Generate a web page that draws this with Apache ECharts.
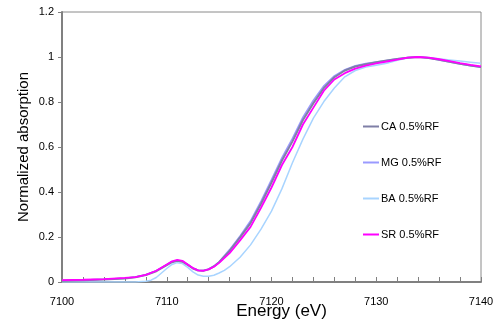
<!DOCTYPE html>
<html>
<head>
<meta charset="utf-8">
<script src="https://cdn.jsdelivr.net/npm/echarts@6/dist/echarts.min.js"></script>
<style>
  html, body { margin: 0; padding: 0; background: #fff; }
  #chart { width: 497px; height: 321px; }
</style>
</head>
<body>
<div id="chart"></div>
<script>
// XANES spectra
const seriesNames = ['CA 0.5%RF', 'MG 0.5%RF', 'BA 0.5%RF', 'SR 0.5%RF']
const xLabels = [7100, 7110, 7120, 7130, 7140]

const energyCA = [7100, 7102, 7104, 7106, 7107, 7108, 7109, 7110, 7110.5, 7111, 7111.5, 7112, 7112.5, 7113, 7113.5, 7114, 7114.5, 7115, 7116, 7117, 7118, 7119, 7120, 7121, 7122, 7123, 7124, 7125, 7126, 7127, 7128, 7129, 7130, 7131, 7132, 7133, 7134, 7135, 7136, 7137, 7138, 7139, 7140]
const valuesCA = [0.006, 0.008, 0.011, 0.016, 0.021, 0.031, 0.048, 0.075, 0.088, 0.094, 0.09, 0.076, 0.06, 0.051, 0.05, 0.056, 0.069, 0.088, 0.138, 0.198, 0.262, 0.348, 0.442, 0.54, 0.625, 0.72, 0.795, 0.862, 0.91, 0.94, 0.958, 0.968, 0.977, 0.984, 0.991, 0.997, 1.0, 0.996, 0.988, 0.979, 0.97, 0.962, 0.955]

const energyMG = energyCA
const valuesMG = [0.007, 0.009, 0.012, 0.017, 0.022, 0.032, 0.05, 0.077, 0.09, 0.096, 0.092, 0.078, 0.062, 0.052, 0.051, 0.058, 0.071, 0.09, 0.144, 0.205, 0.272, 0.36, 0.455, 0.553, 0.638, 0.733, 0.808, 0.872, 0.916, 0.944, 0.961, 0.971, 0.978, 0.985, 0.992, 0.998, 1.0, 0.995, 0.987, 0.978, 0.969, 0.961, 0.954]

const energyBA = [7100, 7102, 7104, 7106, 7107, 7108, 7108.5, 7109, 7110, 7110.5, 7111, 7111.5, 7112, 7112.5, 7113, 7113.5, 7114, 7114.5, 7115, 7115.5, 7116, 7117, 7118, 7119, 7120, 7121, 7122, 7123, 7124, 7125, 7126, 7127, 7128, 7129, 7130, 7131, 7132, 7133, 7134, 7135, 7136, 7137, 7138, 7139, 7140]
const valuesBA = [0.0, 0.0, 0.0, 0.0, 0.0, 0.003, 0.008, 0.02, 0.06, 0.078, 0.086, 0.082, 0.065, 0.045, 0.031, 0.026, 0.026, 0.03, 0.04, 0.052, 0.068, 0.11, 0.165, 0.235, 0.315, 0.415, 0.53, 0.635, 0.728, 0.802, 0.862, 0.912, 0.94, 0.955, 0.963, 0.972, 0.985, 0.995, 1.0, 0.998, 0.992, 0.987, 0.982, 0.977, 0.972]

const energySR = energyCA
const valuesSR = [0.008, 0.01, 0.013, 0.018, 0.022, 0.032, 0.05, 0.078, 0.092, 0.098, 0.094, 0.078, 0.062, 0.052, 0.05, 0.056, 0.068, 0.085, 0.128, 0.185, 0.245, 0.33, 0.42, 0.52, 0.6, 0.7, 0.775, 0.85, 0.9, 0.928, 0.948, 0.962, 0.972, 0.98, 0.988, 0.997, 1.0, 0.997, 0.99, 0.982, 0.973, 0.965, 0.958]

const pairs = (xs, ys) => xs.map((x, i) => [x, ys[i]])

const chart = echarts.init(document.getElementById('chart'))
const font = 'Liberation Sans, Arial, sans-serif'

const lineSeries = (name, xs, ys, color, width, z) => ({
  name,
  type: 'line',
  data: pairs(xs, ys),
  showSymbol: false,
  symbol: 'none',
  z,
  lineStyle: { color, width },
  itemStyle: { color }
})

chart.setOption({
  animation: false,
  textStyle: { fontFamily: font },
  grid: {
    left: 62, right: 16, top: 12, bottom: 39,
    outerBoundsMode: 'none',
    show: true, borderColor: '#8a8a8a', borderWidth: 1
  },
  legend: {
    orient: 'vertical',
    left: 358,
    top: 116,
    itemGap: 25,
    itemWidth: 16,
    itemHeight: 2,
    icon: 'rect',
    data: seriesNames,
    textStyle: { fontSize: 11, color: '#000', fontFamily: font, padding: [0, 0, 0, -3] }
  },
  xAxis: {
    type: 'value',
    // ticks every 2 eV, labels only every 10 eV
    min: 7100, max: 7140, interval: 2,
    name: 'Energy (eV)',
    nameLocation: 'middle',
    nameGap: 21,
    nameMoveOverlap: false,
    nameTextStyle: { fontSize: 17, color: '#000', fontFamily: font, padding: [0, 0, 0, 20] },
    axisLine: { lineStyle: { color: '#808080', width: 2 } },
    axisTick: { show: true, inside: true, length: 5, lineStyle: { color: '#808080' } },
    axisLabel: {
      fontSize: 11, color: '#000', margin: 14, fontFamily: font,
      formatter: v => (xLabels.includes(v) ? String(v) : '')
    },
    splitLine: { show: false }
  },
  yAxis: {
    type: 'value',
    min: 0, max: 1.2, interval: 0.2,
    name: 'Normalized absorption',
    nameLocation: 'middle',
    nameGap: 31,
    nameMoveOverlap: false,
    nameTextStyle: { fontSize: 15, color: '#000', fontFamily: font },
    axisLine: { show: true, lineStyle: { color: '#808080', width: 2 } },
    axisTick: { show: true, inside: false, length: 4, lineStyle: { color: '#808080' } },
    axisLabel: { fontSize: 11, color: '#000', margin: 8, fontFamily: font },
    splitLine: { show: false }
  },
  series: [
    lineSeries(seriesNames[2], energyBA, valuesBA, '#a8d4ff', 1.5, 2),
    lineSeries(seriesNames[1], energyMG, valuesMG, '#9a9aff', 1.5, 3),
    lineSeries(seriesNames[0], energyCA, valuesCA, '#7f7fa6', 2, 4),
    lineSeries(seriesNames[3], energySR, valuesSR, '#ff00ff', 1.8, 5)
  ]
})
</script>
</body>
</html>
